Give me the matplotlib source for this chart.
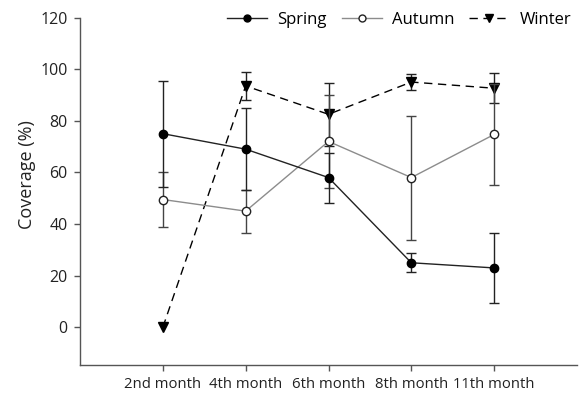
import matplotlib
matplotlib.use("Agg")
import matplotlib.pyplot as plt
from matplotlib.lines import Line2D
import numpy as np

plt.rcParams['font.family'] = ['Open Sans', 'DejaVu Sans']

months = ["2nd month", "4th month", "6th month", "8th month", "11th month"]
spring = [75, 69, 58, 25, 23]
spring_err = [20.5, 16, 9.7, 3.7, 13.7]
autumn = [49.5, 45, 72, 58, 74.7]
autumn_err = [10.5, 8.3, 18, 24, 19.5]
winter = [0, 93.5, 82.5, 95, 92.6]
winter_err = [np.nan, 5.5, 12.2, 3, 5.8]
yticks = [0, 20, 40, 60, 80, 100, 120]

x = np.arange(1, len(months) + 1)

fig = plt.figure(figsize=(5.82, 4.03), dpi=100)
ax = fig.add_axes([80/582, 1-365/403, (577-80)/582, (365-17.5)/403])

winter_ls = (0, (6, 4))
ax.errorbar(x, winter, yerr=winter_err, color='black', ls=winter_ls, lw=1,
            marker='v', ms=6.5, mfc='black', mec='black', capsize=3.6, elinewidth=1,
            ecolor='#222222', zorder=3)
ax.errorbar(x, autumn, yerr=autumn_err, color='#8c8c8c', ls='-', lw=1,
            marker='o', ms=6, mfc='white', mec='#222222', capsize=3.6, elinewidth=1,
            ecolor='#444444', zorder=4)
ax.errorbar(x, spring, yerr=spring_err, color='#222222', ls='-', lw=1,
            marker='o', ms=6, mfc='black', mec='black', capsize=3.6, elinewidth=1,
            ecolor='#222222', zorder=5)

ax.set_xlim(0, 6)
ax.set_ylim(-14.6, 120)
ax.set_xticks(x)
ax.set_xticklabels(months, fontsize=10.7, color='#222222')
ax.set_yticks(yticks)
ax.set_yticklabels([str(v) for v in yticks], fontsize=11.5, color='#222222')
ax.set_ylabel("Coverage (%)", fontsize=13, color='#222222')
ax.yaxis.set_label_coords(-0.0885, 0.547)
ax.spines['top'].set_visible(False)
ax.spines['right'].set_visible(False)
for s in ['left', 'bottom']:
    ax.spines[s].set_color('#555555')
    ax.spines[s].set_linewidth(1)
ax.tick_params(axis='both', direction='out', length=4, width=1, color='#555555', pad=5)

handles = [
    Line2D([], [], color='#222222', lw=1, marker='o', ms=5, mfc='black', mec='black'),
    Line2D([], [], color='#8c8c8c', lw=1, marker='o', ms=5, mfc='white', mec='#222222'),
    Line2D([], [], color='black', lw=1, ls=winter_ls, marker='v', ms=5.5, mfc='black', mec='black'),
]
ax.legend(handles, ["Spring", "Autumn", "Winter"], ncol=3,
          frameon=False, loc='center right', bbox_to_anchor=(0.988, 0.993),
          fontsize=12, handlelength=2.4, columnspacing=0.9, handletextpad=0.6,
          borderaxespad=0.0, borderpad=0.0)

fig.savefig("out.png", dpi=100)
